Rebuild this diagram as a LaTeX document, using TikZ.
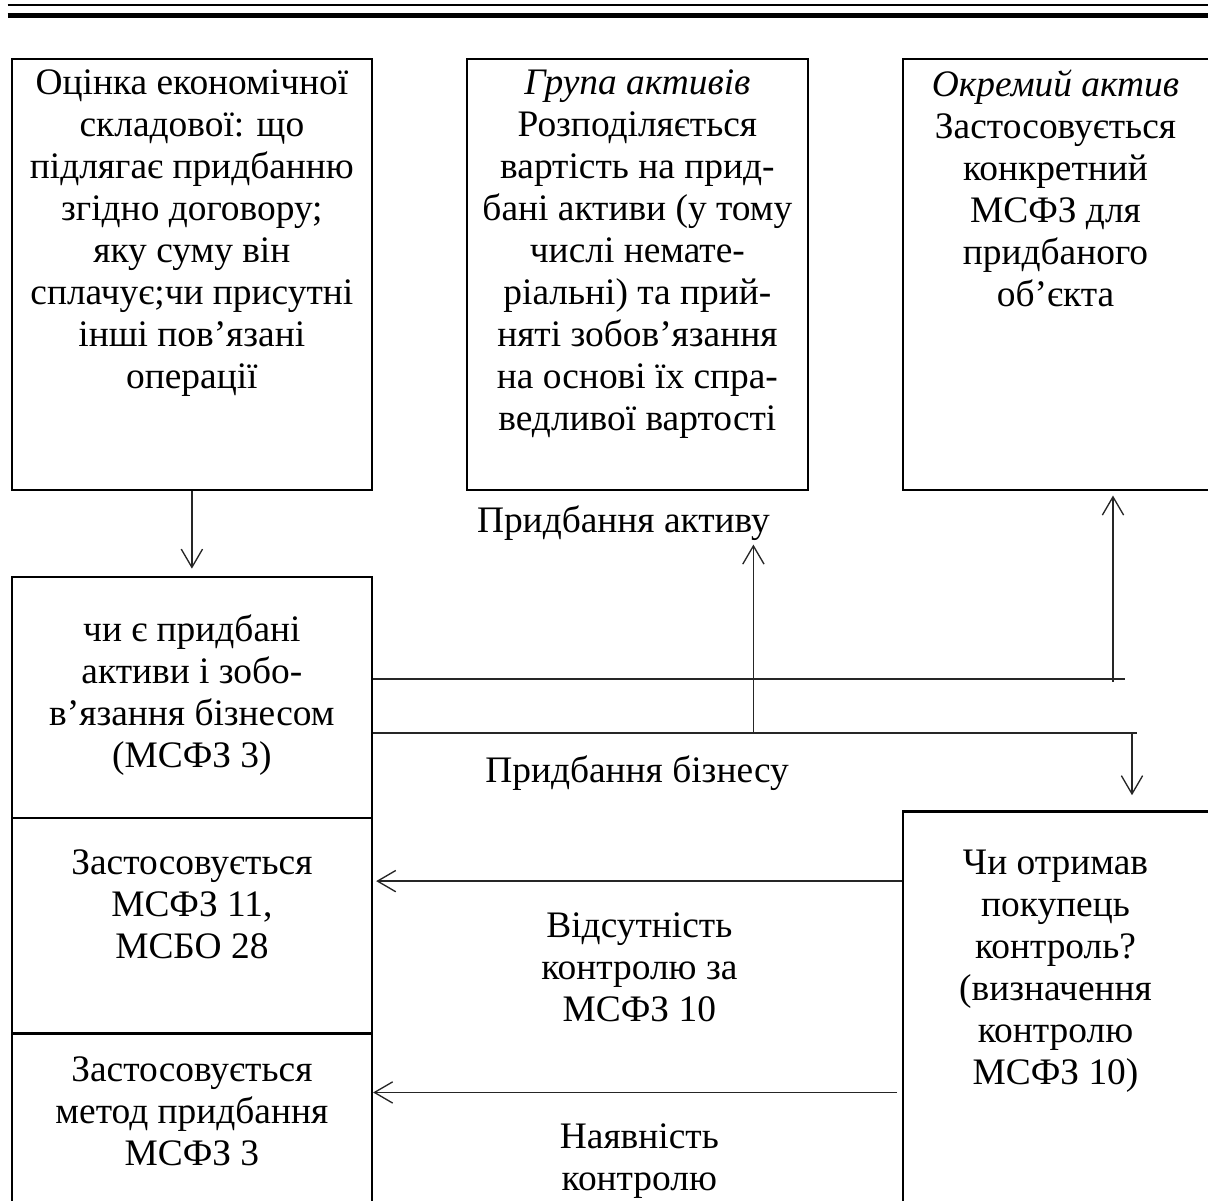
\documentclass[tikz,border=0pt]{standalone}
\usepackage{fontspec}
\setmainfont{Liberation Serif}
\usetikzlibrary{positioning,arrows.meta}

\begin{document}
\begin{tikzpicture}[
    box/.style={draw, line width=0.8pt, inner sep=0pt, anchor=north west},
    txt/.style={align=center, inner sep=0pt, font=\fontsize{14}{15.7}\selectfont},
    conn/.style={draw=black!85, line width=0.5pt},
    arr/.style={conn, -{Straight Barb[length=2.4mm,width=2.8mm]}}
  ]
  % page frame
  \useasboundingbox (0,0) rectangle (15.89,-15.79);
  \clip (0,0) rectangle (15.89,-15.79);

  % header rules
  \draw[line width=0.75pt] (0.1,-0.066) -- (15.89,-0.066);
  \draw[line width=2pt] (0.1,-0.20) -- (15.89,-0.20);

  % top row of boxes
  \node[box, minimum width=4.74cm, minimum height=5.67cm] (eval) at (0.14,-0.76) {};
  \node[box, minimum width=4.48cm, minimum height=5.67cm] (group) at (6.13,-0.76) {};
  \node[box, minimum width=4.14cm, minimum height=5.67cm] (single) at (11.86,-0.76) {};

  \node[txt, below=0.15cm of eval.north] (evaltxt) {Оцінка економічної\\ складової: що\\ підлягає придбанню\\ згідно договору;\\ яку суму він\\ сплачує;чи присутні\\ інші пов’язані\\ операції};
  \node[txt, below=0.15cm of group.north] (grouptxt) {\textit{Група активів}\\ Розподіляється\\ вартість на прид-\\ бані активи (у тому\\ числі немате-\\ ріальні) та прий-\\ няті зобов’язання\\ на основі їх спра-\\ ведливої вартості};
  \node[txt, below=0.15cm of single.north, xshift=-0.06cm] (singletxt) {\textit{Окремий актив}\\ Застосовується\\ конкретний\\ МСФЗ для\\ придбаного\\ об’єкта};

  % left column
  \node[box, minimum width=4.74cm, minimum height=3.16cm] (q1) at (0.14,-7.58) {};
  \node[box, minimum width=4.74cm, minimum height=2.84cm] (rule1) at (0.14,-10.74) {};
  \node[box, minimum width=4.74cm, minimum height=2.42cm] (rule2) at (0.14,-13.58) {};

  \node[txt, below=0.50cm of q1.north] (q1txt) {чи є придбані\\ активи і зобо-\\ в’язання бізнесом\\ (МСФЗ 3)};
  \node[txt, below=0.43cm of rule1.north] (rule1txt) {Застосовується\\ МСФЗ 11,\\ МСБО 28};
  \node[txt, below=0.31cm of rule2.north] (rule2txt) {Застосовується\\ метод придбання\\ МСФЗ 3};

  % right box
  \node[box, minimum width=4.14cm, minimum height=5.34cm] (ctrl) at (11.86,-10.66) {};
  \node[txt, below=0.52cm of ctrl.north, xshift=-0.06cm] (ctrltxt) {Чи отримав\\ покупець\\ контроль?\\ (визначення\\ контролю\\ МСФЗ 10)};

  % labels on the connectors
  \node[txt, anchor=base] (asset) at (8.20,-7.00) {Придбання активу};
  \node[txt, anchor=base] (business) at (8.38,-10.29) {Придбання бізнесу};
  \node[txt, anchor=north] (absent) at (8.41,-12.00) {Відсутність\\ контролю за\\ МСФЗ 10};
  \node[txt, anchor=north] (present) at (8.41,-14.78) {Наявність\\ контролю};

  % connectors
  \coordinate (a1) at (14.64,-8.97);
  \coordinate (e1) at (14.80,-8.93);
  \coordinate (e2) at (14.96,-9.64);
  \coordinate (b2) at (14.89,-9.64);
  \coordinate (m2) at (9.91,-9.64);

  \draw[arr, shorten >=1mm] (eval) -- (q1);
  \draw[conn] (q1.east |- e1) -- (e1);
  \draw[conn] (q1.east |- e2) -- (e2);
  \draw[arr, shorten >=0.6mm] (a1) -- (single.south -| a1);
  \draw[arr, shorten >=0.5mm] (m2) -- (asset.south -| m2);
  \draw[arr, shorten >=2mm] (b2) -- (ctrl.north -| b2);
  \draw[arr, shorten >=0.4mm] (ctrl.west |- 0,-11.59) -- (rule1.east |- 0,-11.59);
  \draw[arr] ([xshift=-0.06cm]ctrl.west |- 0,-14.37) -- (rule2.east |- 0,-14.37);
\end{tikzpicture}
\end{document}
